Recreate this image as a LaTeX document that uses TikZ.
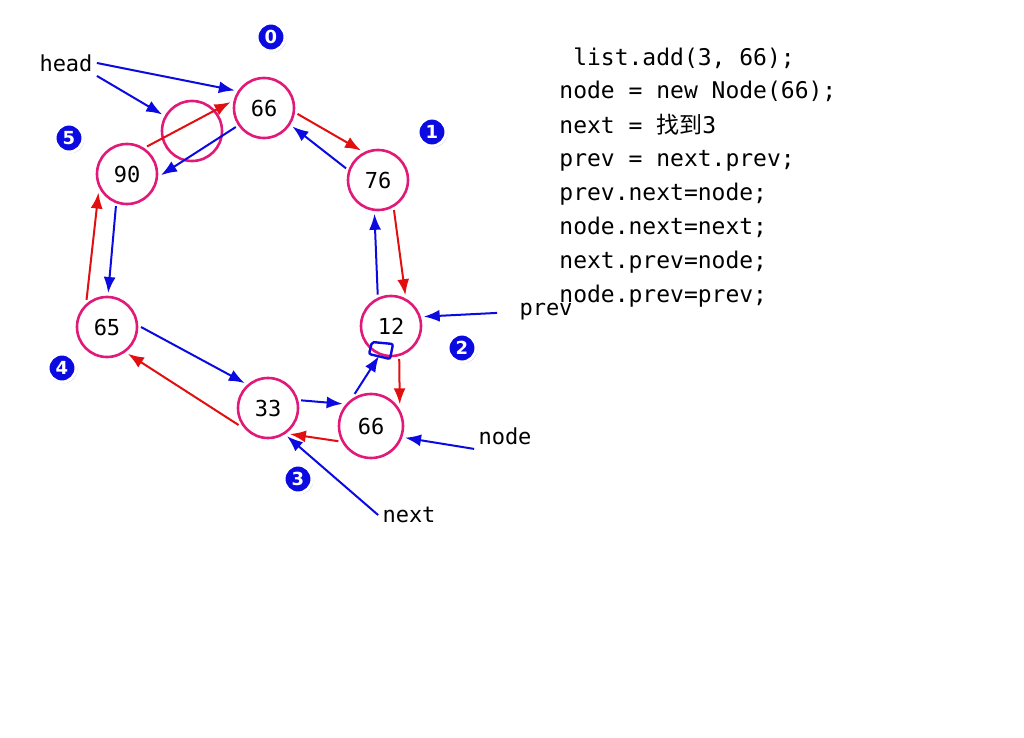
\documentclass[tikz,border=0pt]{standalone}
\usepackage{fontspec}
\setmainfont{DejaVu Sans}
\setsansfont{DejaVu Sans}
\setmonofont{DejaVu Sans Mono}
\newfontfamily\cjk{Noto Sans CJK SC}
\usetikzlibrary{arrows.meta,shadows}
\definecolor{ringpink}{RGB}{225,25,120}
\definecolor{ptrblue}{RGB}{10,10,225}
\definecolor{ptrred}{RGB}{225,15,15}
\tikzset{
  elem/.style={circle, draw=ringpink, line width=1.3pt, fill=white, minimum size=30pt,
    inner sep=0pt, outer sep=2pt, font=\ttfamily\fontsize{11}{13}\selectfont},
  badge/.style={circle, fill=ptrblue, draw=white, line width=1.5pt, minimum size=14pt,
    inner sep=0pt, text=white, font=\sffamily\bfseries\fontsize{9}{10}\selectfont,
    drop shadow={shadow xshift=.7pt, shadow yshift=-.7pt, opacity=.35}},
  ptr/.style={font=\ttfamily\fontsize{11}{13}\selectfont, inner sep=2pt},
  nxt/.style={ptrred, line width=1pt, -{Latex[length=8pt,width=6pt]}},
  prv/.style={ptrblue, line width=1pt, -{Latex[length=8pt,width=6pt]}},
}
\begin{document}
\begin{tikzpicture}[x=0.5pt, y=-0.5pt]
\useasboundingbox (0,0) rectangle (1024,738);
% the ring
\node[elem] (n0) at (264,108) {66};
\node[elem] (n1) at (378,180) {76};
\node[elem] (n2) at (391,326) {12};
\node[elem] (n3) at (268,408) {33};
\node[elem] (n4) at (107,327) {65};
\node[elem] (n5) at (127,174) {90};
\node[elem, fill=none] (ne) at (192,131) {};
\node[elem, minimum size=32pt] (nn) at (371,426) {66};
% index badges
\node[badge] (b0) at (271,37) {0};
\node[badge] (b1) at (432,132) {1};
\node[badge] (b2) at (462,348) {2};
\node[badge] (b3) at (298,479) {3};
\node[badge] (b4) at (62,368) {4};
\node[badge] (b5) at (69,138) {5};
% pointer names
\node[ptr] (lhead) at (66,63) {head};
\node[ptr] (lprev) at (546,312) {prev};
\node[ptr] (lnode) at (505,436) {node};
\node[ptr] (lnext) at (409,515) {next};
% the code
\node[anchor=north west, align=left, inner sep=0pt,
  font=\ttfamily\fontsize{11.5}{17}\selectfont] (code) at (559,47)
  {\phantom{l}list.add(3, 66);\\ node = new Node(66);\\ next = {\cjk 找到}3\\
   prev = next.prev;\\ prev.next=node;\\ node.next=next;\\ next.prev=node;\\
   node.prev=prev;};
% slot on 12
\coordinate (slot) at (379,356);
\draw[ptrblue, line width=1.2pt, rounded corners=1pt] (372,342) -- (393,344) -- (390,359) -- (369,354) -- cycle;
% links
\draw[nxt] (n0.-10) -- (n1.120);
\draw[prv] (n1.160) -- (n0.-33);
\draw[nxt] (n5.54) -- (n0.170);
\draw[prv] (n0.214) -- (n5.-2);
\draw[nxt] (n4.127) -- (n5.213);
\draw[prv] (n5.251) -- (n4.88);
\draw[prv] (n4.0) -- (n3.133);
\draw[nxt] (n3.210) -- (n4.-52);
\draw[prv] (n3.13) -- (nn.142);
\draw[nxt] (nn.205) -- (n3.-50);
\draw[prv] (nn.117) -- (slot);
\draw[nxt] (n2.-76) -- (nn.37);
\draw[prv] (n2.113) -- (n1.264);
\draw[nxt] (n1.-62) -- (n2.65);
% pointers
\draw[prv] (lhead.east) -- (n0.149);
\draw[prv] (lhead.south east) -- (ne.151);
\draw[prv, shorten <=9pt] (lprev.west) -- (n2.16);
\draw[prv] (lnode.south west) -- (nn.-19);
\draw[prv] (lnext.west) -- (n3.-56);
\end{tikzpicture}
\end{document}
